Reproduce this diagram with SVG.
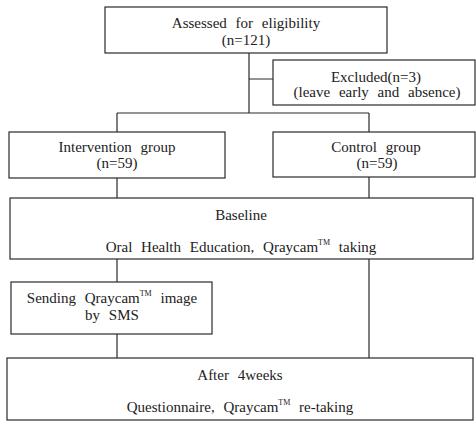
<svg xmlns="http://www.w3.org/2000/svg" width="476" height="421" viewBox="0 0 476 421">
<style>
.box{fill:#fff;stroke:#2a2a2a;stroke-width:1.2}
.ln{fill:none;stroke:#2a2a2a;stroke-width:1.2}
text{font-family:"Liberation Serif","Times New Roman",serif;font-size:15px;fill:#222;text-anchor:middle;word-spacing:5px}
.tm{font-size:8px}
</style>
<rect width="476" height="421" fill="#fff"/>
<g id="connectors">
<path class="ln" d="M249 53V113M249 79H273M117 113H369M117 113V132M369 113V132M117 178V198M369 177V198M117 259V282M117 334V358M369 259V358"/>
</g>
<g id="assessed">
<rect class="box" x="105" y="7" width="282" height="46"/>
<text x="246" y="28">Assessed for eligibility</text>
<text x="246" y="45">(n=121)</text>
</g>
<g id="excluded">
<rect class="box" x="273" y="60" width="202" height="45"/>
<text x="376" y="82">Excluded(n=3)</text>
<text x="377" y="97">(leave early and absence)</text>
</g>
<g id="intervention">
<rect class="box" x="9" y="132" width="216" height="46"/>
<text x="117" y="152">Intervention group</text>
<text x="117" y="168">(n=59)</text>
</g>
<g id="control">
<rect class="box" x="273" y="132" width="202" height="45"/>
<text x="376" y="152">Control group</text>
<text x="377" y="168">(n=59)</text>
</g>
<g id="baseline">
<rect class="box" x="10" y="198" width="463" height="61"/>
<text x="241" y="220">Baseline</text>
<text x="241" y="252">Oral Health Education, Qraycam<tspan class="tm" dy="-7">TM</tspan><tspan dy="7"> taking</tspan></text>
</g>
<g id="sms">
<rect class="box" x="11" y="282" width="201" height="52"/>
<text x="112" y="303">Sending Qraycam<tspan class="tm" dy="-7">TM</tspan><tspan dy="7"> image</tspan></text>
<text x="112" y="320">by SMS</text>
</g>
<g id="after">
<rect class="box" x="7" y="358" width="466" height="62"/>
<text x="240" y="380">After 4weeks</text>
<text x="240" y="412">Questionnaire, Qraycam<tspan class="tm" dy="-7">TM</tspan><tspan dy="7"> re-taking</tspan></text>
</g>
</svg>
